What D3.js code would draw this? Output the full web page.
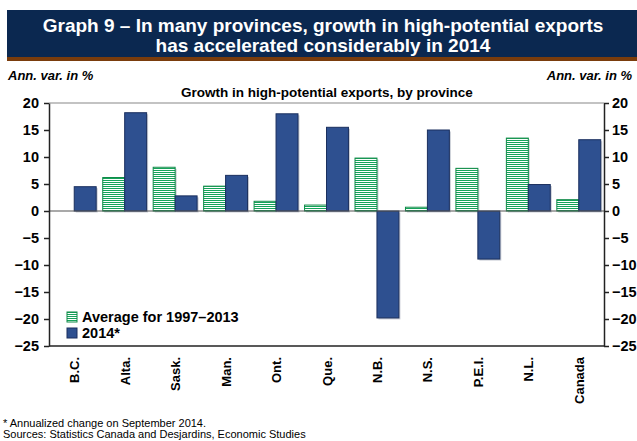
<!DOCTYPE html>
<html>
<head>
<meta charset="utf-8">
<script src="https://cdn.jsdelivr.net/npm/d3@7"></script>
<style>
  body { margin: 0; background: #fff; }
  svg { display: block; font-family: Arial, "Liberation Sans", sans-serif; }
  .axis text { font-size: 14.5px; font-weight: bold; fill: #000; }
  .axis path, .axis line { stroke: #222; stroke-width: 1.5; }
</style>
</head>
<body>
<div id="chart"></div>
<script>
// data
const provinces = ['B.C.', 'Alta.', 'Sask.', 'Man.', 'Ont.', 'Que.', 'N.B.', 'N.S.', 'P.E.I.', 'N.L.', 'Canada'];
const average9713 = [0, 6.2, 8.1, 4.6, 1.8, 1.1, 9.8, 0.7, 7.9, 13.5, 2.1];
const growth2014 = [4.5, 18.2, 2.8, 6.6, 18.0, 15.5, -19.8, 15.0, -8.9, 4.9, 13.2];
const yTicks = [20, 15, 10, 5, 0, -5, -10, -15, -20, -25];
const seriesNames = ['Average for 1997\u20132013', '2014*'];

const width = 637, height = 441;
const margin = { left: 49, right: 33, top: 103, bottom: 95 };

const svg = d3.select('#chart').append('svg')
  .attr('width', width)
  .attr('height', height);

const defs = svg.append('defs');
const stripes = defs.append('pattern')
  .attr('id', 'stripes')
  .attr('patternUnits', 'userSpaceOnUse')
  .attr('width', 4)
  .attr('height', 2);
stripes.append('rect').attr('width', 4).attr('height', 2).attr('fill', '#fff');
stripes.append('rect').attr('width', 4).attr('height', 1).attr('fill', '#15a35a');

// header band
svg.append('rect')
  .attr('x', 7).attr('y', 10)
  .attr('width', width - 7).attr('height', 47)
  .attr('fill', '#0b2850');
svg.append('rect')
  .attr('x', 7).attr('y', 57)
  .attr('width', width - 7).attr('height', 4)
  .attr('fill', '#7a3c0c');

const titleLines = ['Graph 9 \u2013 In many provinces, growth in high-potential exports',
  'has accelerated considerably in 2014'];
svg.append('text')
  .attr('text-anchor', 'middle')
  .attr('fill', '#fff')
  .style('font-size', '19px')
  .style('font-weight', 'bold')
  .selectAll('tspan')
  .data(titleLines)
  .enter().append('tspan')
  .attr('x', 323)
  .attr('y', (d, i) => 32 + i * 20)
  .text(d => d);

svg.append('text')
  .attr('x', 8).attr('y', 80)
  .style('font-size', '13px').style('font-weight', 'bold').style('font-style', 'italic')
  .text('Ann. var. in %');
svg.append('text')
  .attr('x', 632).attr('y', 80)
  .attr('text-anchor', 'end')
  .style('font-size', '13px').style('font-weight', 'bold').style('font-style', 'italic')
  .text('Ann. var. in %');
svg.append('text')
  .attr('x', 327).attr('y', 97)
  .attr('text-anchor', 'middle')
  .style('font-size', '13.5px').style('font-weight', 'bold')
  .text('Growth in high-potential exports, by province');

const x = d3.scaleBand()
  .domain(provinces)
  .range([margin.left, width - margin.right]);

const xSub = d3.scaleBand()
  .domain(seriesNames)
  .range([x.bandwidth() * 0.065, x.bandwidth() * 0.935]);

const y = d3.scaleLinear()
  .domain([-25, 20])
  .range([height - margin.bottom, margin.top]);

// top border
svg.append('line')
  .attr('x1', margin.left).attr('x2', width - margin.right)
  .attr('y1', y(20)).attr('y2', y(20))
  .attr('stroke', '#888').attr('stroke-width', 1.2);

const rows = provinces.map((p, i) => ({ p, avg: average9713[i], y14: growth2014[i] }));

const group = svg.append('g').selectAll('g')
  .data(rows)
  .enter().append('g')
  .attr('transform', d => `translate(${x(d.p)},0)`);

const barData = d => [
  { key: seriesNames[0], v: d.avg },
  { key: seriesNames[1], v: d.y14 }
].filter(b => b.v !== 0);

// faint shadow, then bars
group.selectAll('rect.shadow')
  .data(barData)
  .enter().append('rect')
  .attr('class', 'shadow')
  .attr('x', b => xSub(b.key) + 1.5)
  .attr('y', b => Math.min(y(b.v), y(0)) + 1.5)
  .attr('width', xSub.bandwidth())
  .attr('height', b => Math.abs(y(b.v) - y(0)))
  .attr('fill', '#c8ccd4');

group.selectAll('rect.bar')
  .data(barData)
  .enter().append('rect')
  .attr('class', 'bar')
  .attr('x', b => xSub(b.key))
  .attr('y', b => Math.min(y(b.v), y(0)))
  .attr('width', xSub.bandwidth())
  .attr('height', b => Math.abs(y(b.v) - y(0)))
  .attr('fill', b => b.key === seriesNames[0] ? 'url(#stripes)' : '#2e5090')
  .attr('stroke', b => b.key === seriesNames[0] ? '#0f8a47' : '#1a2f5e')
  .attr('stroke-width', 1);

svg.append('line')
  .attr('x1', margin.left).attr('x2', width - margin.right)
  .attr('y1', y(0)).attr('y2', y(0))
  .attr('stroke', '#555').attr('stroke-width', 1.2);

// axes
svg.append('g')
  .attr('class', 'axis')
  .attr('transform', `translate(${margin.left},0)`)
  .call(d3.axisLeft(y).tickValues(yTicks).tickSize(5).tickSizeOuter(0).tickPadding(5));

svg.append('g')
  .attr('class', 'axis')
  .attr('transform', `translate(${width - margin.right},0)`)
  .call(d3.axisRight(y).tickValues(yTicks).tickSize(5).tickSizeOuter(0).tickPadding(3));

svg.append('line')
  .attr('x1', margin.left).attr('x2', width - margin.right)
  .attr('y1', y(-25)).attr('y2', y(-25))
  .attr('stroke', '#222').attr('stroke-width', 1.5);

// category labels
svg.append('g').selectAll('text')
  .data(provinces)
  .enter().append('text')
  .attr('transform', d => `translate(${x(d) + x.bandwidth() / 2 + 5},357) rotate(-90)`)
  .attr('text-anchor', 'end')
  .style('font-size', '13px').style('font-weight', 'bold')
  .text(d => d);

// legend
const legend = svg.append('g').attr('transform', 'translate(67,312)');
const item = legend.selectAll('g')
  .data(seriesNames)
  .enter().append('g')
  .attr('transform', (d, i) => `translate(0,${i * 16})`);
item.append('rect')
  .attr('width', 10).attr('height', 10)
  .attr('fill', (d, i) => i === 0 ? 'url(#stripes)' : '#2e5090')
  .attr('stroke', (d, i) => i === 0 ? '#0f8a47' : '#1a2f5e');
item.append('text')
  .attr('x', 15).attr('y', 10)
  .style('font-size', '14.5px').style('font-weight', 'bold')
  .text(d => d);

// footnotes
svg.append('text')
  .attr('x', 3).attr('y', 427)
  .style('font-size', '11px')
  .text('* Annualized change on September 2014.');
svg.append('text')
  .attr('x', 3).attr('y', 438)
  .style('font-size', '11px')
  .text('Sources: Statistics Canada and Desjardins, Economic Studies');
</script>
</body>
</html>
